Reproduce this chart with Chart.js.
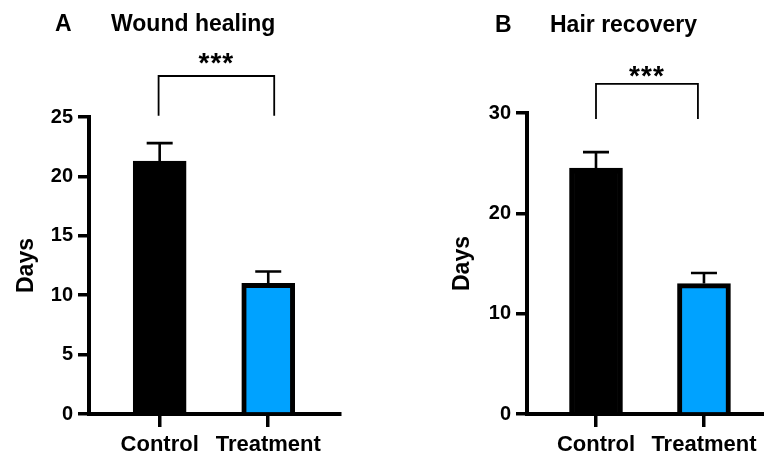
<!DOCTYPE html>
<html>
<head>
<meta charset="utf-8">
<script src="https://cdn.jsdelivr.net/npm/chart.js@4/dist/chart.umd.min.js"></script>
<style>
  html, body { margin: 0; padding: 0; background: #fff; }
  #wrap { position: relative; width: 764px; height: 457px; overflow: hidden; }
  .panel { position: absolute; top: 0; width: 382px; height: 457px; }
</style>
</head>
<body>
<div id="wrap">
  <div class="panel" style="left:0"><canvas id="cA" width="382" height="457"></canvas></div>
  <div class="panel" style="left:382px"><canvas id="cB" width="382" height="457"></canvas></div>
</div>
<script>
// ---- data ----
const categories = ['Control', 'Treatment'];
const barColors = ['#000000', '#00A2FF'];

const woundDays = [21.3, 11.0];
const woundErr = [1.5, 1.0];
const woundTicks = [0, 5, 10, 15, 20, 25];

const hairDays = [24.5, 13.0];
const hairErr = [1.6, 1.05];
const hairTicks = [0, 10, 20, 30];

const FONT = "'Liberation Sans', Arial, Helvetica, sans-serif";

function annotPlugin(cfg) {
  return {
    id: 'annot' + cfg.letter,
    afterDatasetsDraw(chart) {
      const { ctx } = chart;
      const x = chart.scales.x, y = chart.scales.y;
      ctx.save();
      ctx.strokeStyle = '#000';
      ctx.lineCap = 'butt';
      // error bars
      ctx.lineWidth = 2.6;
      cfg.values.forEach((v, i) => {
        const px = x.getPixelForValue(i + 1);
        const base = y.getPixelForValue(v);
        const top = y.getPixelForValue(v + cfg.errors[i]);
        ctx.beginPath();
        ctx.moveTo(px, base); ctx.lineTo(px, top);
        ctx.moveTo(px - 13, top); ctx.lineTo(px + 13, top);
        ctx.stroke();
      });
      // significance bracket
      const x1 = x.getPixelForValue(cfg.bracketX[0]);
      const x2 = x.getPixelForValue(cfg.bracketX[1]);
      const bt = y.getPixelForValue(cfg.bracketTop);
      const bb = y.getPixelForValue(cfg.bracketBottom);
      ctx.lineWidth = 1.8;
      ctx.beginPath();
      ctx.moveTo(x1, bb); ctx.lineTo(x1, bt); ctx.lineTo(x2, bt); ctx.lineTo(x2, bb);
      ctx.stroke();
      // stars
      ctx.fillStyle = '#000';
      ctx.font = 'bold 28px ' + FONT;
      ctx.textAlign = 'center';
      ctx.textBaseline = 'alphabetic';
      try { ctx.letterSpacing = '1px'; } catch (e) {}
      const m = ctx.measureText(cfg.stars);
      const sy = y.getPixelForValue(cfg.starsY) + (m.actualBoundingBoxAscent - m.actualBoundingBoxDescent) / 2;
      ctx.fillText(cfg.stars, (x1 + x2) / 2, sy);
      try { ctx.letterSpacing = '0px'; } catch (e) {}
      // panel letter and title
      ctx.font = 'bold 23px ' + FONT;
      ctx.textAlign = 'left';
      ctx.fillText(cfg.letter, cfg.letterX, cfg.titleBase);
      ctx.fillText(cfg.title, cfg.titleX, cfg.titleBase);
      ctx.restore();
    }
  };
}

function makeChart(id, opt) {
  return new Chart(document.getElementById(id), {
    type: 'bar',
    data: {
      datasets: [{
        data: opt.values.map((v, i) => ({ x: i + 1, y: v })),
        backgroundColor: barColors,
        borderColor: '#000',
        borderWidth: 5,
        borderSkipped: 'start',
        barThickness: 53
      }]
    },
    options: {
      responsive: false,
      animation: false,
      devicePixelRatio: 1,
      layout: { padding: { left: opt.padLeft, top: opt.padTop, right: opt.padRight, bottom: 0 } },
      plugins: { legend: { display: false }, tooltip: { enabled: false }, title: { display: false } },
      scales: {
        x: {
          type: 'linear',
          offset: false,
          bounds: 'data',
          min: opt.xMin, max: opt.xMax,
          afterBuildTicks: (s) => { s.ticks = categories.map((c, i) => ({ value: i + 1 })); },
          afterFit: (s) => { s.height = 43; },
          ticks: {
            callback: (v) => categories[v - 1] || '',
            color: '#000',
            font: { family: FONT, size: 22, weight: 'bold' },
            padding: 5,
            maxRotation: 0,
            autoSkip: false
          },
          grid: { offset: false, drawOnChartArea: false, drawTicks: true, tickLength: 13, color: '#000', lineWidth: 3.5 },
          border: { display: true, color: '#000', width: 4 }
        },
        y: {
          min: 0, max: opt.ticks[opt.ticks.length - 1],
          afterBuildTicks: (s) => { s.ticks = opt.ticks.map(v => ({ value: v })); },
          afterFit: (s) => { s.width = opt.yWidth; },
          ticks: {
            color: '#000',
            font: { family: FONT, size: 20, weight: 'bold' },
            padding: 5
          },
          grid: { drawOnChartArea: false, drawTicks: true, tickLength: 11, color: '#000', lineWidth: 3.5 },
          border: { display: true, color: '#000', width: 4 },
          title: {
            display: true, text: 'Days', color: '#000',
            font: { family: FONT, size: 23, weight: 'bold' },
            padding: 0
          }
        }
      }
    },
    plugins: [annotPlugin(opt)]
  });
}

makeChart('cA', {
  letter: 'A', title: 'Wound healing', letterX: 55, titleX: 111, titleBase: 31,
  values: woundDays, errors: woundErr, ticks: woundTicks,
  padLeft: 13, padTop: 117, padRight: 42, yWidth: 76,
  xMin: 0.349, xMax: 2.661,
  bracketX: [0.99, 2.055], bracketTop: 28.45, bracketBottom: 25.1,
  stars: '***', starsY: 29.9
});

makeChart('cB', {
  letter: 'B', title: 'Hair recovery', letterX: 113, titleX: 168, titleBase: 32,
  values: hairDays, errors: hairErr, ticks: hairTicks,
  padLeft: 67, padTop: 113, padRight: 0, yWidth: 78,
  xMin: 0.361, xMax: 2.556,
  bracketX: [1.0, 1.944], bracketTop: 32.9, bracketBottom: 29.4,
  stars: '***', starsY: 34.1
});
</script>
</body>
</html>
